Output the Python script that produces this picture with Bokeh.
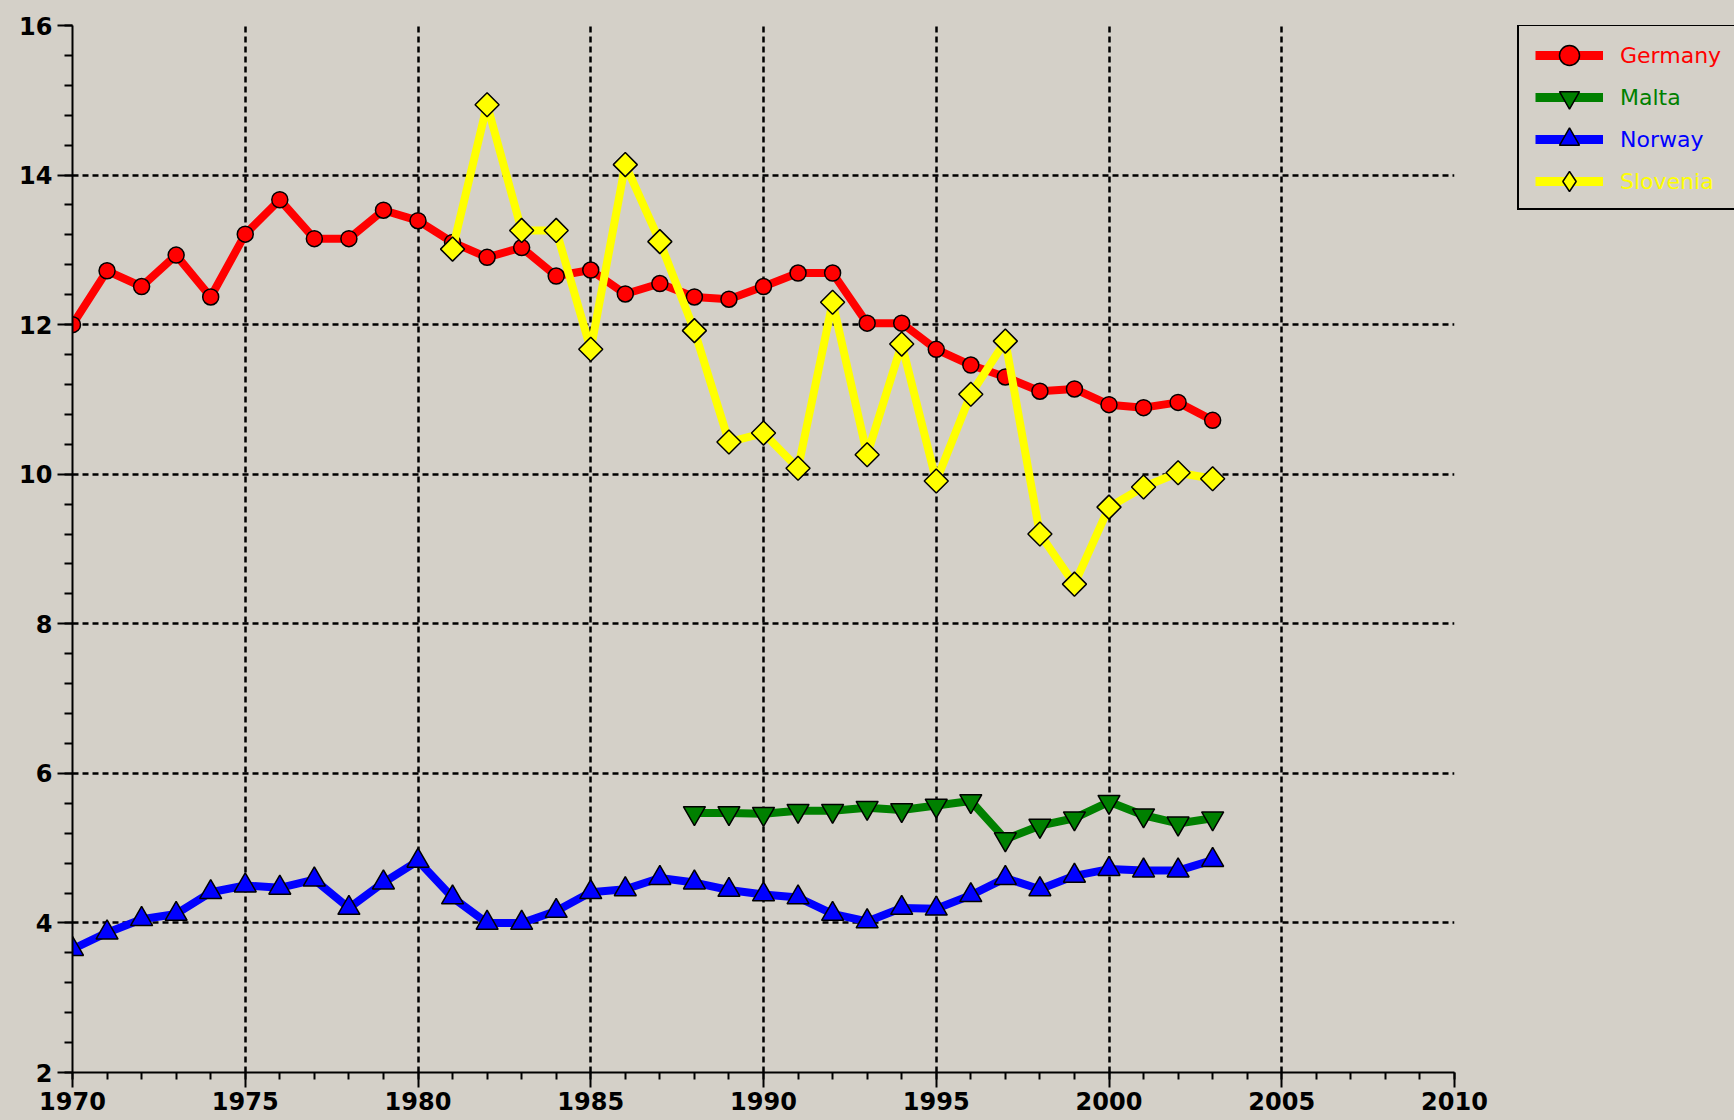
import math
from bokeh.plotting import figure
from bokeh.layouts import row
from bokeh.models import SingleIntervalTicker, Legend, LegendItem
from bokeh.embed import file_html
from bokeh.resources import INLINE

BG = "#D4D0C8"

# ---- data ----
germany_years = list(range(1970, 2004))
germany = [12.0, 12.72, 12.51, 12.93, 12.37, 13.21, 13.67, 13.15, 13.15, 13.53,
           13.39, 13.1, 12.90, 13.03, 12.65, 12.73, 12.41, 12.55, 12.37, 12.34,
           12.51, 12.69, 12.69, 12.02, 12.02, 11.67, 11.46, 11.3, 11.11, 11.14,
           10.93, 10.89, 10.96, 10.72]

malta_years = list(range(1988, 2004))
malta = [5.47, 5.47, 5.46, 5.50, 5.50, 5.54, 5.51, 5.57, 5.63, 5.12,
         5.30, 5.40, 5.62, 5.44, 5.33, 5.40]

norway_years = list(range(1970, 2004))
norway = [3.65, 3.87, 4.05, 4.12, 4.41, 4.50, 4.47, 4.58, 4.20, 4.54,
          4.83, 4.34, 4.00, 4.00, 4.16, 4.41, 4.45, 4.60, 4.54, 4.44,
          4.38, 4.34, 4.12, 4.02, 4.20, 4.19, 4.37, 4.60, 4.45, 4.63,
          4.72, 4.70, 4.70, 4.84]

slovenia_years = list(range(1981, 2004))
slovenia = [13.01, 14.94, 13.26, 13.26, 11.67, 14.14, 13.11, 11.92, 10.43, 10.55,
            10.08, 12.30, 10.26, 11.74, 9.91, 11.07, 11.78, 9.20, 8.53, 9.56,
            9.83, 10.02, 9.94]

series_names = ["Germany", "Malta", "Norway", "Slovenia"]
series_colors = ["#FF0000", "#008000", "#0000FF", "#FFFF00"]
series_markers = ["circle", "inverted_triangle", "triangle", "square"]
legend_markers = ["circle", "inverted_triangle", "triangle", "diamond"]
series_sizes = [16, 22, 22, 17]
series_angles = [0, 0, 0, math.pi / 4]
series_x = [germany_years, malta_years, norway_years, slovenia_years]
series_y = [germany, malta, norway, slovenia]

LW = 8

# ---- main figure ----
p = figure(frame_width=1382, frame_height=1047, x_range=(1970, 2010), y_range=(2, 16),
           output_backend="svg", toolbar_location=None,
           min_border_left=72, min_border_top=25, min_border_right=40, min_border_bottom=52)
p.background_fill_color = BG
p.border_fill_color = BG
p.outline_line_color = None

p.xaxis.ticker = SingleIntervalTicker(interval=5, num_minor_ticks=5)
p.yaxis.ticker = SingleIntervalTicker(interval=2, num_minor_ticks=5)

for ax in (p.xaxis[0], p.yaxis[0]):
    ax.axis_line_color = "black"
    ax.axis_line_width = 2
    ax.major_tick_line_color = "black"
    ax.major_tick_line_width = 2
    ax.minor_tick_line_color = "black"
    ax.minor_tick_line_width = 2
    ax.major_tick_in = 0
    ax.minor_tick_in = 0
    ax.major_tick_out = 15
    ax.major_label_text_font = "DejaVu Sans"
    ax.major_label_text_font_style = "bold"
    ax.major_label_text_font_size = "24px"
    ax.major_label_text_color = "black"
p.xaxis[0].minor_tick_out = 7
p.yaxis[0].minor_tick_out = 8
p.xaxis[0].major_label_standoff = 4
p.yaxis[0].major_label_standoff = 5

p.grid.grid_line_color = "black"
p.grid.grid_line_dash = "6 4"
p.grid.grid_line_width = 2.5

for xs, ys, c, mk, sz, ang in zip(series_x, series_y, series_colors, series_markers,
                                   series_sizes, series_angles):
    p.line(xs, ys, line_color=c, line_width=LW, line_join="round")
    p.scatter(xs, ys, marker=mk, size=sz, angle=ang,
              fill_color=c, line_color="black", line_width=1.5)

# ---- legend figure (to the right of the plot) ----
LEG_W = 240
LEG_H = 1120
PW = 72 + 1382 + 40          # width of the main figure
FRAME_BOTTOM = 1066          # reference offset of the legend figure's frame bottom

q = figure(width=LEG_W, height=LEG_H, x_range=(0, 1), y_range=(0, 1),
           x_axis_type=None, y_axis_type=None, toolbar_location=None,
           output_backend="svg", min_border=0)
q.background_fill_color = BG
q.border_fill_color = BG
q.outline_line_color = None

# renderers styled like the series (their data lies outside q's ranges)
leg_renderers = []
for xs, ys, c, mk in zip(series_x, series_y, series_colors, legend_markers):
    rl = q.line(xs, ys, line_color=c, line_width=9)
    rm = q.scatter(xs, ys, marker=mk, size=16,
                   fill_color=c, line_color="black", line_width=1.5)
    leg_renderers.append((rl, rm))

dummy = q.line([5, 6], [5, 6], line_alpha=0)
box = Legend(items=[LegendItem(label=" ", renderers=[dummy])],
             location=(1517 - PW, FRAME_BOTTOM - 208),
             padding=0, spacing=0, margin=0, glyph_width=100, glyph_height=182,
             label_height=182, label_width=200, label_standoff=0,
             label_text_alpha=0, border_line_color="black", border_line_width=2.5,
             border_line_alpha=1.0, background_fill_alpha=0)
q.add_layout(box)

for i, (name, color, (rl, rm)) in enumerate(zip(series_names, series_colors, leg_renderers)):
    lg = Legend(items=[LegendItem(label=name, renderers=[rl, rm])],
                location=(1535 - PW, FRAME_BOTTOM - 78 - 42 * i),
                padding=0, spacing=0, margin=0, glyph_width=68, glyph_height=50,
                label_height=50, label_standoff=17,
                label_text_font="DejaVu Sans", label_text_font_size="22px",
                label_text_color=color, border_line_color=None,
                background_fill_alpha=0)
    q.add_layout(lg)

layout = row(p, q)

html = file_html(layout, INLINE, title="Chart")
html = html.replace("</head>", "<style>html, body {background:#D4D0C8; overflow:hidden;}</style></head>", 1)
open("out.html", "w").write(html)
